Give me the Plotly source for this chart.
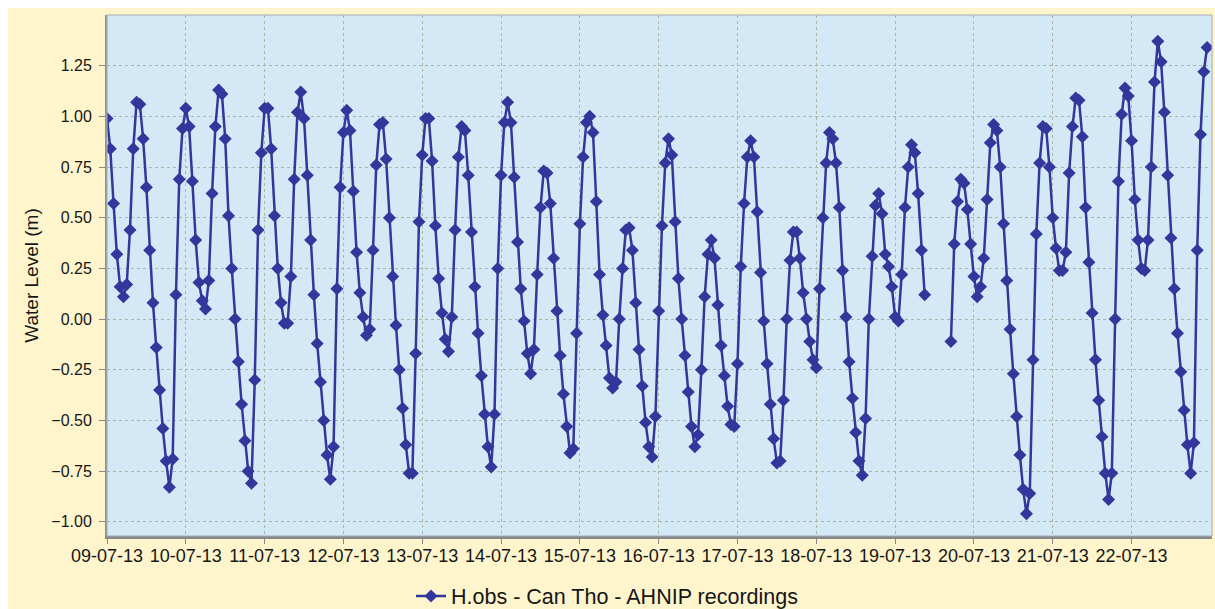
import pandas as pd
import plotly.graph_objects as go

# Hourly observed water level (m), one list per day, starting 09-07-2013 00:00
day_09 = [0.99, 0.84, 0.57, 0.32, 0.16, 0.11, 0.17, 0.44, 0.84, 1.07, 1.06, 0.89,
          0.65, 0.34, 0.08, -0.14, -0.35, -0.54, -0.70, -0.83, -0.69, 0.12, 0.69, 0.94]
day_10 = [1.04, 0.95, 0.68, 0.39, 0.18, 0.09, 0.05, 0.19, 0.62, 0.95, 1.13, 1.11,
          0.89, 0.51, 0.25, 0.00, -0.21, -0.42, -0.60, -0.75, -0.81, -0.30, 0.44, 0.82]
day_11 = [1.04, 1.04, 0.84, 0.51, 0.25, 0.08, -0.02, -0.02, 0.21, 0.69, 1.02, 1.12,
          0.99, 0.71, 0.39, 0.12, -0.12, -0.31, -0.50, -0.67, -0.79, -0.63, 0.15, 0.65]
day_12 = [0.92, 1.03, 0.93, 0.63, 0.33, 0.13, 0.01, -0.08, -0.05, 0.34, 0.76, 0.96,
          0.97, 0.79, 0.50, 0.21, -0.03, -0.25, -0.44, -0.62, -0.76, -0.76, -0.17, 0.48]
day_13 = [0.81, 0.99, 0.99, 0.78, 0.46, 0.20, 0.03, -0.10, -0.16, 0.01, 0.44, 0.80,
          0.95, 0.93, 0.71, 0.43, 0.16, -0.07, -0.28, -0.47, -0.63, -0.73, -0.47, 0.25]
day_14 = [0.71, 0.97, 1.07, 0.97, 0.70, 0.38, 0.15, -0.01, -0.17, -0.27, -0.15, 0.22,
          0.55, 0.73, 0.72, 0.57, 0.30, 0.04, -0.18, -0.37, -0.53, -0.66, -0.64, -0.07]
day_15 = [0.47, 0.80, 0.97, 1.00, 0.92, 0.58, 0.22, 0.02, -0.13, -0.29, -0.34, -0.31,
          0.00, 0.25, 0.44, 0.45, 0.34, 0.08, -0.15, -0.33, -0.51, -0.63, -0.68, -0.48]
day_16 = [0.04, 0.46, 0.77, 0.89, 0.81, 0.48, 0.20, 0.00, -0.18, -0.36, -0.53, -0.63,
          -0.57, -0.25, 0.11, 0.32, 0.39, 0.30, 0.07, -0.13, -0.28, -0.43, -0.52, -0.53]
day_17 = [-0.22, 0.26, 0.57, 0.80, 0.88, 0.80, 0.53, 0.23, -0.01, -0.22, -0.42, -0.59,
          -0.71, -0.70, -0.40, 0.00, 0.29, 0.43, 0.43, 0.30, 0.13, 0.00, -0.11, -0.20]
day_18 = [-0.24, 0.15, 0.50, 0.77, 0.92, 0.89, 0.77, 0.55, 0.24, 0.01, -0.21, -0.39,
          -0.56, -0.70, -0.77, -0.49, 0.00, 0.31, 0.56, 0.62, 0.52, 0.32, 0.26, 0.16]
day_19 = [0.01, -0.01, 0.22, 0.55, 0.75, 0.86, 0.82, 0.62, 0.34, 0.12, None, None,
          None, None, None, None, None, -0.11, 0.37, 0.58, 0.69, 0.67, 0.54, 0.37]
day_20 = [0.21, 0.11, 0.16, 0.30, 0.59, 0.87, 0.96, 0.93, 0.75, 0.47, 0.19, -0.05,
          -0.27, -0.48, -0.67, -0.84, -0.96, -0.86, -0.20, 0.42, 0.77, 0.95, 0.94, 0.75]
day_21 = [0.50, 0.35, 0.24, 0.24, 0.33, 0.72, 0.95, 1.09, 1.08, 0.90, 0.55, 0.28,
          0.03, -0.20, -0.40, -0.58, -0.76, -0.89, -0.76, 0.00, 0.68, 1.01, 1.14, 1.10]
day_22 = [0.88, 0.59, 0.39, 0.25, 0.24, 0.39, 0.75, 1.17, 1.37, 1.27, 1.02, 0.71,
          0.40, 0.15, -0.07, -0.26, -0.45, -0.62, -0.76, -0.61, 0.34, 0.91, 1.22, 1.34]

days = [day_09, day_10, day_11, day_12, day_13, day_14, day_15,
        day_16, day_17, day_18, day_19, day_20, day_21, day_22]
water_level = [v for d in days for v in d]

start_date = "2013-07-09 00:00"
times = pd.date_range(start_date, periods=len(water_level), freq="h")

tick_labels = ["09-07-13", "10-07-13", "11-07-13", "12-07-13", "13-07-13", "14-07-13",
               "15-07-13", "16-07-13", "17-07-13", "18-07-13", "19-07-13", "20-07-13",
               "21-07-13", "22-07-13"]
tick_dates = pd.date_range(start_date, periods=len(tick_labels), freq="D")

y_ticks = [-1.00, -0.75, -0.50, -0.25, 0.00, 0.25, 0.50, 0.75, 1.00, 1.25]

series_name = "H.obs - Can Tho - AHNIP recordings"

LINE = "#33379c"
FONT = "Liberation Sans, Arial, sans-serif"

# Figure covers the whole 1215x609 page
W, H = 1215, 609
L, R, T, B = 107, 3, 15, 73
pw, ph = W - L - R, H - T - B

def px_x(p):  # figure pixel -> paper x
    return (p - L) / pw

def px_y(p):  # figure pixel -> paper y
    return 1 - (p - T) / ph

fig = go.Figure()
fig.add_trace(go.Scatter(
    x=times, y=water_level, mode="lines+markers", name=series_name,
    line=dict(color=LINE, width=2.5),
    marker=dict(symbol="diamond", size=10, color=LINE),
    connectgaps=False,
))

fig.update_layout(
    width=W, height=H,
    margin=dict(l=L, r=R, t=T, b=B, autoexpand=False),
    paper_bgcolor="#fef5cc",
    plot_bgcolor="#d3e9f6",
    font=dict(family=FONT, color="#161616"),
    showlegend=True,
    legend=dict(
        orientation="h", x=px_x(411), y=px_y(596), xanchor="left", yanchor="middle",
        bgcolor="rgba(0,0,0,0)", font=dict(size=21.5, color="#161616", family=FONT),
    ),
    xaxis=dict(
        range=["2013-07-09 00:00", "2013-07-23 00:30"],
        tickvals=tick_dates, ticktext=tick_labels,
        tickfont=dict(size=18, color="#161616"),
        ticks="outside", ticklen=5, tickcolor="#8a8a8a",
        ticklabelstandoff=-4,
        showgrid=True, gridcolor="#b3b5a4", griddash="dot", gridwidth=1,
        showline=True, linecolor="#85898f", linewidth=3,
        zeroline=False,
    ),
    yaxis=dict(
        range=[-1.07, 1.50],
        tickvals=y_ticks, tickformat=".2f",
        tickfont=dict(size=16, color="#161616"),
        ticks="outside", ticklen=6, tickcolor="#8a8a8a",
        ticklabelstandoff=4,
        showgrid=True, gridcolor="#b3b5a4", griddash="dot", gridwidth=1,
        showline=True, linecolor="#8f9296", linewidth=2,
        zeroline=False,
        title=dict(text="Water Level (m)", font=dict(size=19, color="#161616"), standoff=8),
    ),
    shapes=[
        dict(type="rect", xref="paper", yref="paper", x0=0, x1=1, y0=0, y1=1,
             line=dict(color="#a9acb0", width=1), fillcolor="rgba(0,0,0,0)", layer="above"),
        # white page margin along the top and left edges
        dict(type="rect", xref="paper", yref="paper", x0=px_x(0), x1=px_x(W), y0=px_y(8), y1=px_y(0),
             line=dict(width=0), fillcolor="#ffffff", layer="below"),
        dict(type="rect", xref="paper", yref="paper", x0=px_x(0), x1=px_x(8), y0=px_y(H), y1=px_y(0),
             line=dict(width=0), fillcolor="#ffffff", layer="below"),
    ],
)

fig.write_html(
    "out.html",
    config={"displayModeBar": False},
    post_script="document.body.style.margin='0';document.body.style.overflow='hidden';",
)
